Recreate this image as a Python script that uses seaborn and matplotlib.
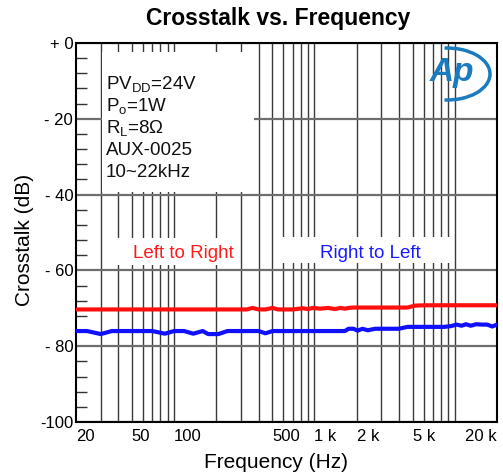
import numpy as np
import pandas as pd
import matplotlib
matplotlib.use('Agg')
import matplotlib.pyplot as plt
from matplotlib.patches import Rectangle, Arc
import seaborn as sns

freq_hz = [20, 24, 30, 36, 43, 50, 60, 70, 86, 100, 118, 137, 160, 175, 190, 207,
           240, 270, 300, 330, 362, 400, 448, 503, 550, 600, 700, 830, 900, 970,
           1100, 1250, 1400, 1530, 1650, 1750, 1900, 2030, 2200, 2400, 2700, 3000,
           3500, 4000, 4600, 5200, 6100, 7200, 8400, 9400, 10300, 11200, 12000,
           13000, 14200, 15500, 17000, 18500, 20000]

left_to_right = [-70.3, -70.3, -70.3, -70.3, -70.3, -70.3, -70.3, -70.3, -70.3, -70.3,
                 -70.3, -70.3, -70.3, -70.3, -70.3, -70.3, -70.3, -70.3, -70.3, -70.3,
                 -69.9, -70.3, -70.3, -69.9, -70.3, -70.3, -70.3, -70.0, -70.2, -69.9,
                 -70.1, -69.9, -70.2, -69.9, -70.1, -69.9, -69.8, -69.8, -69.8, -69.8,
                 -69.8, -69.8, -69.8, -69.8, -69.8, -69.3, -69.2, -69.2, -69.2, -69.2,
                 -69.2, -69.2, -69.2, -69.2, -69.2, -69.2, -69.2, -69.2, -69.2]

right_to_left = [-76.0, -76.0, -76.8, -76.0, -76.0, -76.0, -76.0, -76.0, -76.7, -76.0,
                 -76.0, -76.7, -76.0, -76.8, -76.8, -76.8, -76.0, -76.0, -76.0, -76.0,
                 -76.0, -76.0, -76.6, -76.0, -76.0, -76.0, -76.0, -76.0, -76.0, -76.0,
                 -76.0, -76.0, -76.0, -76.0, -76.0, -75.4, -75.4, -75.9, -75.4, -75.8,
                 -75.4, -75.4, -75.4, -75.4, -74.9, -74.9, -74.9, -74.9, -74.9, -74.7,
                 -74.3, -74.6, -74.2, -74.6, -74.2, -74.3, -74.3, -74.8, -74.3]

x_tick_vals = [20, 50, 100, 500, 1000, 2000, 5000, 20000]
x_tick_text = ['20', '50', '100', '500', '1 k', '2 k', '5 k', '20 k']
x_grid_vals = [30, 40, 50, 60, 70, 80, 90, 100, 200, 300, 400, 500, 600, 700, 800, 900,
               1000, 2000, 3000, 4000, 5000, 6000, 7000, 8000, 9000, 10000]
y_tick_vals = [0, -20, -40, -60, -80, -100]
y_tick_text = ['+ 0', '- 20', '- 40', '- 60', '- 80', '-100']

params = [r'PV$_{\mathrm{DD}}$=24V', r'P$_{\mathrm{o}}$=1W', r'R$_{\mathrm{L}}$=8Ω',
          'AUX-0025', '10~22kHz']

df = pd.DataFrame({'Frequency': freq_hz * 2,
                   'Crosstalk': left_to_right + right_to_left,
                   'Channel': ['Left to Right'] * len(freq_hz) + ['Right to Left'] * len(freq_hz)})

sns.set_theme(style='white')
plt.rcParams['font.family'] = ['Liberation Sans', 'DejaVu Sans']
plt.rcParams['mathtext.fontset'] = 'custom'
plt.rcParams['mathtext.rm'] = 'Liberation Sans'
plt.rcParams['mathtext.it'] = 'Liberation Sans:italic'
plt.rcParams['text.color'] = 'black'
plt.rcParams['xtick.color'] = 'black'
plt.rcParams['ytick.color'] = 'black'

W, H = 503, 474
fig = plt.figure(figsize=(W / 100, H / 100), dpi=100)
L, R, T, B = 76, 497, 43, 422
ax = fig.add_axes([L / W, 1 - B / H, (R - L) / W, (B - T) / H])

def ax_x(px):
    return (px - L) / (R - L)

def ax_y(py):
    return (B - py) / (B - T)

sns.lineplot(data=df, x='Frequency', y='Crosstalk', hue='Channel',
             palette={'Left to Right': '#ff1010', 'Right to Left': '#1010ff'},
             linewidth=3, legend=False, ax=ax, zorder=3)

ax.set_xscale('log')
ax.set_xlim(20, 20000)
ax.set_ylim(-100, 0)

ax.xaxis.remove_overlapping_locs = False
ax.set_xticks(x_tick_vals)
ax.set_xticklabels(x_tick_text, fontsize=12)
for lbl in ax.get_xticklabels()[:-1]:
    lbl.set_ha('left')
ax.get_xticklabels()[-1].set_ha('right')
ax.set_xticks(x_grid_vals, minor=True)
ax.xaxis.set_minor_formatter(matplotlib.ticker.NullFormatter())
ax.tick_params(axis='x', which='both', length=0, pad=5, labelcolor='black')

ax.set_yticks(y_tick_vals)
ax.set_yticklabels(y_tick_text, fontsize=12)
ax.yaxis.set_minor_locator(matplotlib.ticker.MultipleLocator(4))
ax.yaxis.set_minor_formatter(matplotlib.ticker.NullFormatter())
ax.tick_params(axis='y', which='major', length=0, pad=2, labelcolor='black')
ax.tick_params(axis='y', which='minor', left=True, direction='in', length=8,
               width=1.0, color='#333333')

ax.grid(False)
ax.grid(axis='x', which='minor', color='#3a3a3a', linewidth=1.0)
ax.grid(axis='y', which='major', color='#6e6e6e', linewidth=1.6)

for sp in ax.spines.values():
    sp.set_color('black')
    sp.set_linewidth(1.5)

ax.set_xlabel('')
ax.set_ylabel('')

# white masks behind the annotations
for (x0, y0, x1, y1) in [(102, 52, 254, 192), (117, 238, 240, 265), (275, 237, 450, 263)]:
    ax.add_patch(Rectangle((ax_x(x0), ax_y(y1)), ax_x(x1) - ax_x(x0), ax_y(y0) - ax_y(y1),
                           transform=ax.transAxes, facecolor='white', edgecolor='none', zorder=1.8))

baselines = [89.3, 111.2, 133.0, 154.9, 176.7]
for txt, b in zip(params, baselines):
    ax.text(ax_x(106), ax_y(b), txt, transform=ax.transAxes, fontsize=13.5,
            va='baseline', ha='left', color='#111111', zorder=4)

ax.text(ax_x(183), ax_y(258), 'Left to Right', transform=ax.transAxes, fontsize=13.5,
        va='baseline', ha='center', color='#ff1a1a', zorder=4)
ax.text(ax_x(370), ax_y(257.5), 'Right to Left', transform=ax.transAxes, fontsize=13.5,
        va='baseline', ha='center', color='#1a1aff', zorder=4)

# AP logo
ax.text(ax_x(452), ax_y(73), 'Ap', transform=ax.transAxes, fontsize=24, fontstyle='italic',
        fontweight='bold', color='#1a7bbf', ha='center', va='center', zorder=4)
ax.add_patch(Arc((ax_x(447), ax_y(74)), 86 / (R - L), 52 / (B - T), theta1=-95, theta2=95,
                 transform=ax.transAxes, color='#1a7bbf', linewidth=2.5, zorder=4))

fig.text(278 / W, 1 - 19 / H, 'Crosstalk vs. Frequency', fontsize=16.5, fontweight='bold',
         ha='center', va='center', color='black')
fig.text(276 / W, 1 - 462 / H, 'Frequency (Hz)', fontsize=15, ha='center', va='center',
         color='black')
fig.text(25 / W, 1 - 240 / H, 'Crosstalk (dB)', fontsize=15, ha='center', va='center',
         rotation=90, color='black')

fig.savefig('out.png', dpi=100)
